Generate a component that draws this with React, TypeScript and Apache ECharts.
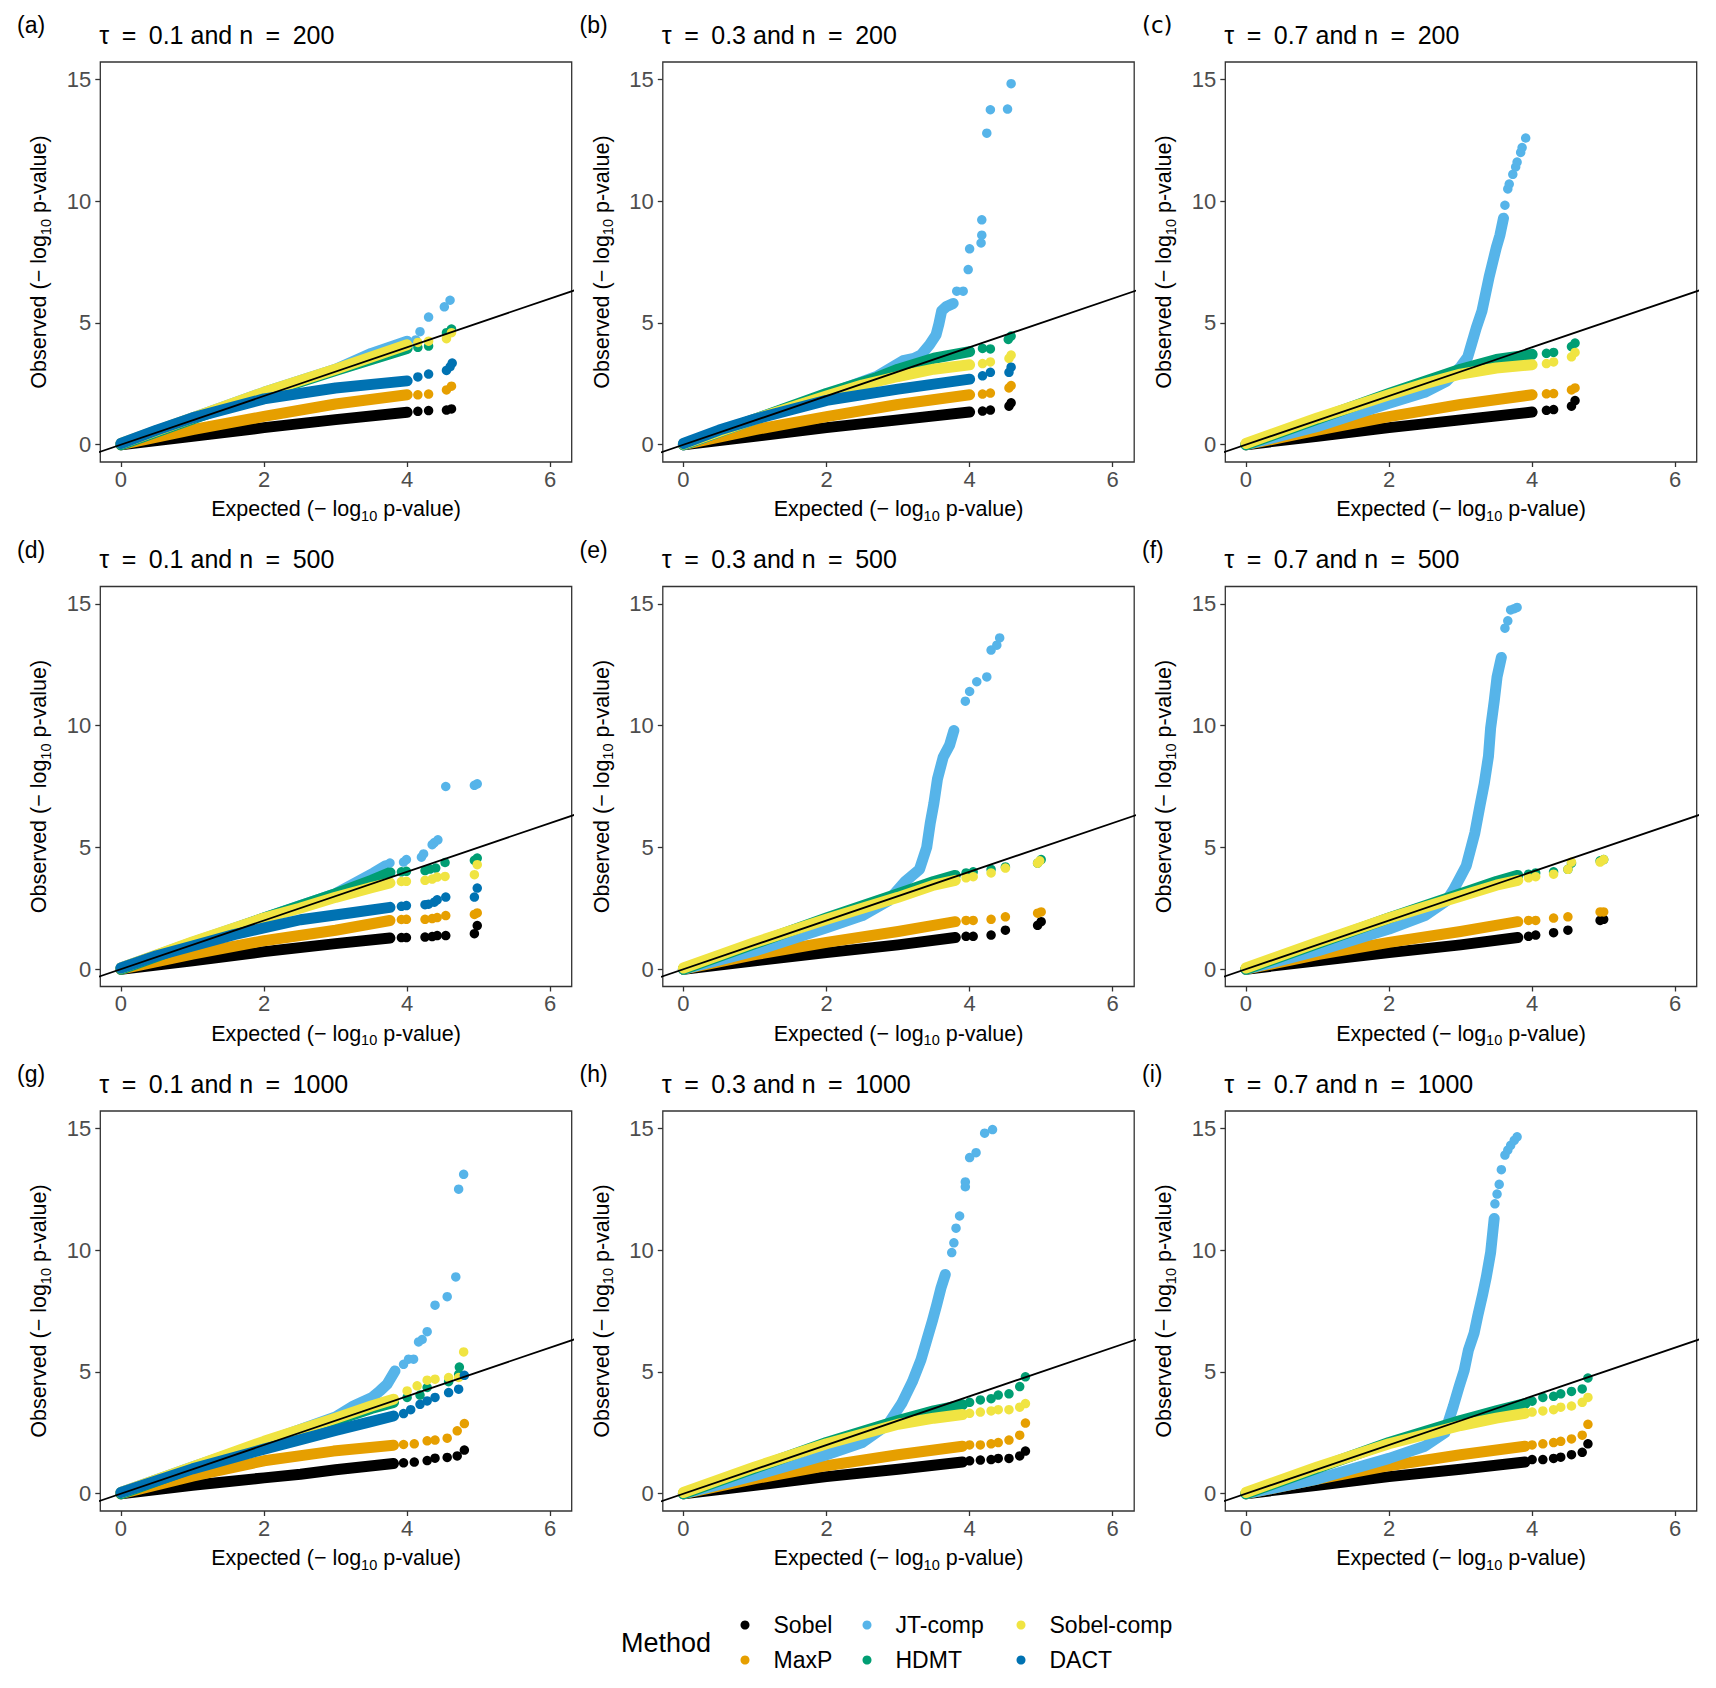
import React, { useEffect, useRef } from "react";
import * as echarts from "echarts";

type Pt = [number, number];

const methods = ["Sobel", "MaxP", "JT-comp", "HDMT", "Sobel-comp", "DACT"];
const methodColors = ["#000000", "#E69F00", "#56B4E9", "#009E73", "#F0E442", "#0072B2"];
const panelTags = ["(a)", "(b)", "(c)", "(d)", "(e)", "(f)", "(g)", "(h)", "(i)"];
const tauValues = ["0.1", "0.3", "0.7"];
const nValues = ["200", "500", "1000"];
const xTickValues = [0, 2, 4, 6];
const yTickValues = [0, 5, 10, 15];
const ablinePts: Pt[] = [[-1, -1], [7, 7]];

// ---- Panel (a): tau = 0.1, n = 200 (order: Sobel, MaxP, JT-comp, HDMT, Sobel-comp, DACT)
const bandA: Pt[][] = [
  [[0, 0], [1, 0.35], [2, 0.7], [3, 1.03], [4, 1.33]],
  [[0, 0], [1, 0.62], [2, 1.16], [3, 1.67], [4, 2.05]],
  [[0, 0.02], [1, 1.1], [2, 2.15], [3, 3.1], [3.5, 3.75], [4, 4.25]],
  [[0, 0], [1, 1.05], [2, 2.1], [3, 3.05], [4, 3.95]],
  [[0, 0.05], [1, 1.1], [2, 2.15], [3, 3.1], [3.5, 3.6], [4, 4.1]],
  [[0, 0.05], [0.5, 0.6], [1, 1.1], [2, 1.88], [3, 2.33], [4, 2.62]],
];
const tailA: Pt[][] = [
  [[4.15, 1.37], [4.3, 1.4], [4.55, 1.42], [4.62, 1.47]],
  [[4.15, 2.05], [4.3, 2.08], [4.55, 2.25], [4.62, 2.4]],
  [[4.12, 4.3], [4.18, 4.64], [4.3, 5.24], [4.52, 5.66], [4.6, 5.93]],
  [[4.15, 4.0], [4.3, 4.05], [4.55, 4.6], [4.62, 4.75]],
  [[4.15, 4.2], [4.3, 4.25], [4.55, 4.35], [4.62, 4.6]],
  [[4.15, 2.78], [4.3, 2.9], [4.55, 3.05], [4.6, 3.2], [4.63, 3.35]],
];

// ---- Panel (b): tau = 0.3, n = 200
const bandB: Pt[][] = [
  [[0, 0], [1, 0.35], [2, 0.7], [3, 1.02], [4, 1.34]],
  [[0, 0], [1, 0.62], [2, 1.15], [3, 1.65], [4, 2.05]],
  [[0, 0], [1, 1.05], [2, 2.05], [2.7, 2.8], [3.07, 3.45], [3.22, 3.54], [3.32, 3.68], [3.44, 4.1], [3.53, 4.5], [3.57, 4.95], [3.61, 5.5], [3.67, 5.66], [3.77, 5.8]],
  [[0, 0], [1, 1.05], [2, 2.1], [2.7, 2.75], [3, 3.1], [3.5, 3.55], [4, 3.82]],
  [[0, 0.03], [1, 1.05], [2, 2.0], [2.5, 2.45], [3, 2.8], [3.5, 3.1], [4, 3.28]],
  [[0, 0.05], [0.5, 0.6], [1, 1.05], [2, 1.82], [3, 2.28], [4, 2.69]],
];
const tailB: Pt[][] = [
  [[4.18, 1.38], [4.29, 1.42], [4.55, 1.58], [4.58, 1.72]],
  [[4.18, 2.08], [4.29, 2.12], [4.55, 2.33], [4.58, 2.43]],
  [[3.82, 6.3], [3.91, 6.3], [3.98, 7.19], [4.0, 8.04], [4.16, 8.28], [4.17, 8.6], [4.17, 9.23], [4.24, 12.79], [4.29, 13.75], [4.53, 13.78], [4.58, 14.82]],
  [[4.18, 3.95], [4.29, 3.93], [4.54, 4.32], [4.58, 4.46]],
  [[4.18, 3.33], [4.29, 3.4], [4.55, 3.54], [4.58, 3.68]],
  [[4.18, 2.83], [4.29, 2.97], [4.55, 2.97], [4.58, 3.18]],
];

// ---- Panel (c): tau = 0.7, n = 200
const bandC: Pt[][] = [
  [[0, 0], [1, 0.35], [2, 0.7], [3, 1.02], [4, 1.34]],
  [[0, 0], [1, 0.6], [2, 1.15], [3, 1.65], [4, 2.05]],
  [[0, 0], [1, 0.75], [2, 1.7], [2.5, 2.15], [2.8, 2.6], [3.0, 3.2], [3.1, 3.6], [3.15, 4.1], [3.22, 4.8], [3.3, 5.5], [3.35, 6.2], [3.4, 6.9], [3.45, 7.5], [3.5, 8.1], [3.55, 8.6], [3.6, 9.3]],
  [[0, 0], [1, 1.05], [2, 2.1], [3, 3.1], [3.5, 3.5], [4, 3.71]],
  [[0, 0.05], [1, 1.1], [2, 2.05], [2.5, 2.5], [3, 2.9], [3.5, 3.15], [4, 3.28]],
  [],
];
const tailC: Pt[][] = [
  [[4.2, 1.41], [4.3, 1.44], [4.55, 1.58], [4.6, 1.81]],
  [[4.2, 2.09], [4.3, 2.1], [4.55, 2.25], [4.6, 2.33]],
  [[3.62, 9.83], [3.66, 10.5], [3.68, 10.7], [3.73, 11.1], [3.77, 11.4], [3.79, 11.6], [3.84, 12.0], [3.86, 12.2], [3.91, 12.59]],
  [[4.2, 3.75], [4.3, 3.79], [4.55, 4.03], [4.6, 4.17]],
  [[4.2, 3.33], [4.3, 3.4], [4.55, 3.61], [4.6, 3.79]],
  [],
];

// ---- Panel (d): tau = 0.1, n = 500
const bandD: Pt[][] = [
  [[0, 0], [1, 0.35], [2, 0.72], [3, 1.05], [3.76, 1.28]],
  [[0, 0], [1, 0.62], [2, 1.17], [3, 1.6], [3.76, 2.0]],
  [[0, 0.05], [1, 1.1], [2, 2.1], [3, 3.1], [3.53, 3.95], [3.7, 4.25]],
  [[0, 0], [1, 1.05], [2, 2.1], [3, 3.1], [3.5, 3.65], [3.76, 3.97]],
  [[0, 0.05], [1, 1.12], [2, 2.1], [2.5, 2.5], [3, 2.95], [3.5, 3.35], [3.76, 3.54]],
  [[0, 0.05], [0.5, 0.55], [1, 0.95], [1.58, 1.42], [2.51, 2.03], [3.2, 2.31], [3.76, 2.54]],
];
const tailD: Pt[][] = [
  [[3.92, 1.3], [3.99, 1.3], [4.25, 1.32], [4.35, 1.34], [4.42, 1.38], [4.54, 1.38], [4.94, 1.46], [4.98, 1.79]],
  [[3.92, 2.04], [3.99, 2.05], [4.25, 2.05], [4.35, 2.08], [4.42, 2.12], [4.54, 2.2], [4.94, 2.25], [4.98, 2.31]],
  [[3.76, 4.36], [3.95, 4.4], [3.99, 4.5], [4.2, 4.6], [4.23, 4.73], [4.35, 5.11], [4.38, 5.2], [4.43, 5.31], [4.54, 7.5], [4.94, 7.55], [4.98, 7.61]],
  [[3.92, 4.0], [3.99, 4.02], [4.25, 4.05], [4.32, 4.11], [4.4, 4.15], [4.53, 4.38], [4.94, 4.47], [4.98, 4.56]],
  [[3.92, 3.6], [3.99, 3.61], [4.25, 3.65], [4.35, 3.7], [4.42, 3.78], [4.53, 3.81], [4.94, 3.88], [4.98, 4.29]],
  [[3.92, 2.58], [3.99, 2.61], [4.25, 2.65], [4.3, 2.67], [4.38, 2.75], [4.42, 2.85], [4.54, 2.96], [4.94, 2.96], [4.98, 3.33]],
];

// ---- Panel (e): tau = 0.3, n = 500
const bandE: Pt[][] = [
  [[0, 0], [1, 0.35], [2, 0.68], [3, 1.0], [3.8, 1.3]],
  [[0, 0], [1, 0.6], [2, 1.1], [3, 1.55], [3.8, 1.95]],
  [[0, 0], [1, 0.75], [2, 1.7], [2.5, 2.2], [2.86, 2.8], [3.1, 3.6], [3.3, 4.1], [3.4, 5.0], [3.45, 6.0], [3.5, 6.8], [3.55, 7.8], [3.63, 8.7], [3.72, 9.2], [3.78, 9.8]],
  [[0, 0], [1, 1.05], [2, 2.1], [3, 3.1], [3.5, 3.6], [3.8, 3.85]],
  [[0, 0.05], [1, 1.1], [2, 2.05], [3, 2.95], [3.5, 3.45], [3.8, 3.65]],
  [],
];
const tailE: Pt[][] = [
  [[3.95, 1.35], [4.05, 1.35], [4.3, 1.4], [4.5, 1.6], [4.95, 1.8], [5.0, 1.95]],
  [[3.95, 2.0], [4.05, 2.0], [4.3, 2.05], [4.5, 2.15], [4.95, 2.3], [5.0, 2.35]],
  [[3.94, 11.0], [4.0, 11.4], [4.1, 11.8], [4.24, 12.0], [4.3, 13.1], [4.38, 13.3], [4.42, 13.6]],
  [[3.95, 3.95], [4.05, 4.0], [4.3, 4.1], [4.5, 4.2], [4.95, 4.35], [5.0, 4.5]],
  [[3.95, 3.75], [4.05, 3.8], [4.3, 3.95], [4.5, 4.15], [4.95, 4.35], [4.98, 4.45]],
  [],
];

// ---- Panel (f): tau = 0.7, n = 500
const bandF: Pt[][] = [
  [[0, 0], [1, 0.35], [2, 0.68], [3, 1.0], [3.8, 1.3]],
  [[0, 0], [1, 0.6], [2, 1.1], [3, 1.55], [3.8, 1.95]],
  [[0, 0], [1, 0.75], [2, 1.65], [2.5, 2.2], [2.8, 2.8], [2.9, 3.25], [3.0, 3.8], [3.08, 4.25], [3.2, 5.6], [3.27, 6.7], [3.33, 7.6], [3.39, 8.75], [3.42, 9.9], [3.47, 11.0], [3.51, 12.0], [3.57, 12.8]],
  [[0, 0], [1, 1.05], [2, 2.1], [3, 3.1], [3.5, 3.6], [3.8, 3.85]],
  [[0, 0.05], [1, 1.1], [2, 2.1], [3, 3.0], [3.5, 3.45], [3.8, 3.65]],
  [],
];
const tailF: Pt[][] = [
  [[3.95, 1.35], [4.05, 1.4], [4.3, 1.5], [4.5, 1.6], [4.95, 2.0], [5.0, 2.05]],
  [[3.95, 2.0], [4.05, 2.0], [4.3, 2.1], [4.5, 2.15], [4.95, 2.35], [5.0, 2.35]],
  [[3.62, 14.0], [3.66, 14.3], [3.7, 14.75], [3.75, 14.8], [3.79, 14.85]],
  [[3.95, 3.9], [4.05, 3.95], [4.3, 4.0], [4.5, 4.1], [4.55, 4.35], [4.95, 4.45], [5.0, 4.5]],
  [[3.95, 3.75], [4.05, 3.8], [4.3, 3.9], [4.5, 4.1], [4.55, 4.4], [4.95, 4.4], [5.0, 4.5]],
  [],
];

// ---- Panel (g): tau = 0.1, n = 1000
const bandG: Pt[][] = [
  [[0, 0], [1, 0.35], [2, 0.65], [2.51, 0.8], [3, 0.98], [3.81, 1.24]],
  [[0, 0], [1, 0.72], [2, 1.35], [2.97, 1.75], [3.81, 1.99]],
  [[0, 0.05], [1, 1.1], [2, 2.1], [3, 3.15], [3.25, 3.6], [3.51, 3.95], [3.62, 4.22], [3.72, 4.49], [3.83, 5.04]],
  [[0, 0], [1, 1.05], [2, 2.1], [3, 3.0], [3.5, 3.5], [3.81, 3.75]],
  [[0, 0.05], [1, 1.1], [2, 2.15], [3, 3.1], [3.5, 3.6], [3.81, 3.88]],
  [[0, 0.05], [1, 1.02], [2, 1.83], [2.51, 2.22], [3, 2.6], [3.44, 2.92], [3.81, 3.19]],
];
const tailG: Pt[][] = [
  [[3.95, 1.27], [4.1, 1.3], [4.28, 1.36], [4.39, 1.46], [4.56, 1.49], [4.7, 1.55], [4.8, 1.79]],
  [[3.95, 2.02], [4.1, 2.05], [4.28, 2.17], [4.39, 2.2], [4.56, 2.28], [4.7, 2.58], [4.8, 2.88]],
  [[3.95, 5.31], [4.02, 5.52], [4.09, 5.52], [4.16, 6.23], [4.21, 6.33], [4.28, 6.65], [4.39, 7.74], [4.56, 8.09], [4.68, 8.9], [4.72, 12.5], [4.79, 13.11]],
  [[4.0, 3.95], [4.18, 4.05], [4.28, 4.36], [4.58, 4.6], [4.72, 4.9], [4.73, 5.2]],
  [[4.0, 4.22], [4.14, 4.43], [4.28, 4.66], [4.39, 4.7], [4.58, 4.77], [4.72, 4.77], [4.79, 5.82]],
  [[3.95, 3.29], [4.05, 3.45], [4.18, 3.67], [4.28, 3.81], [4.39, 3.95], [4.58, 4.15], [4.72, 4.29], [4.8, 4.86]],
];

// ---- Panel (h): tau = 0.3, n = 1000
const bandH: Pt[][] = [
  [[0, 0], [1, 0.35], [2, 0.7], [3, 1.0], [3.9, 1.3]],
  [[0, 0], [1, 0.62], [2, 1.15], [3, 1.6], [3.9, 1.95]],
  [[0, 0], [1, 0.75], [2, 1.6], [2.5, 2.1], [2.86, 2.85], [3.05, 3.7], [3.2, 4.6], [3.32, 5.5], [3.4, 6.3], [3.48, 7.1], [3.54, 7.75], [3.6, 8.45], [3.66, 9.0]],
  [[0, 0], [1, 1.05], [2, 2.1], [3, 3.0], [3.5, 3.4], [3.9, 3.65]],
  [[0, 0.05], [1, 1.1], [2, 2.05], [3, 2.85], [3.5, 3.1], [3.9, 3.25]],
  [],
];
const tailH: Pt[][] = [
  [[4.0, 1.35], [4.15, 1.38], [4.3, 1.4], [4.4, 1.45], [4.55, 1.45], [4.7, 1.55], [4.78, 1.75]],
  [[4.0, 2.0], [4.15, 2.0], [4.3, 2.05], [4.4, 2.1], [4.55, 2.2], [4.7, 2.4], [4.78, 2.9]],
  [[3.75, 9.9], [3.78, 10.3], [3.81, 10.9], [3.86, 11.4], [3.94, 12.6], [3.94, 12.8], [4.0, 13.8], [4.09, 14.0], [4.21, 14.8], [4.32, 14.95]],
  [[4.0, 3.75], [4.15, 3.85], [4.3, 3.9], [4.4, 4.05], [4.55, 4.1], [4.7, 4.4], [4.78, 4.8]],
  [[4.0, 3.3], [4.15, 3.35], [4.3, 3.4], [4.4, 3.45], [4.55, 3.45], [4.7, 3.55], [4.78, 3.7]],
  [],
];

// ---- Panel (i): tau = 0.7, n = 1000
const bandI: Pt[][] = [
  [[0, 0], [1, 0.35], [2, 0.7], [3, 1.0], [3.9, 1.3]],
  [[0, 0], [1, 0.6], [2, 1.15], [3, 1.6], [3.9, 1.95]],
  [[0, 0], [1, 0.6], [2, 1.45], [2.5, 1.95], [2.78, 2.5], [2.9, 3.6], [2.98, 4.4], [3.05, 5.05], [3.11, 5.9], [3.19, 6.6], [3.24, 7.3], [3.31, 8.2], [3.36, 8.9], [3.42, 9.9], [3.47, 11.3]],
  [[0, 0], [1, 1.05], [2, 2.1], [3, 3.0], [3.5, 3.4], [3.9, 3.7]],
  [[0, 0.05], [1, 1.1], [2, 2.05], [3, 2.8], [3.5, 3.1], [3.9, 3.3]],
  [],
];
const tailI: Pt[][] = [
  [[4.0, 1.4], [4.15, 1.4], [4.3, 1.45], [4.4, 1.5], [4.55, 1.6], [4.7, 1.7], [4.78, 2.05]],
  [[4.0, 2.0], [4.15, 2.05], [4.3, 2.1], [4.4, 2.15], [4.55, 2.25], [4.7, 2.4], [4.78, 2.85]],
  [[3.48, 11.9], [3.51, 12.3], [3.54, 12.7], [3.57, 13.3], [3.62, 13.9], [3.66, 14.1], [3.7, 14.3], [3.75, 14.5], [3.79, 14.65]],
  [[4.0, 3.8], [4.15, 3.95], [4.3, 4.0], [4.4, 4.1], [4.55, 4.2], [4.7, 4.3], [4.78, 4.75]],
  [[4.0, 3.35], [4.15, 3.4], [4.3, 3.45], [4.4, 3.55], [4.55, 3.6], [4.7, 3.75], [4.78, 3.95]],
  [],
];

const panelBands = [bandA, bandB, bandC, bandD, bandE, bandF, bandG, bandH, bandI];
const panelTails = [tailA, tailB, tailC, tailD, tailE, tailF, tailG, tailH, tailI];

const FONT = "'Liberation Sans', Arial, Helvetica, sans-serif";
const SP = "\u2002";

function buildOption() {
  const grids: any[] = [];
  const xAxes: any[] = [];
  const yAxes: any[] = [];
  const series: any[] = [];
  const graphics: any[] = [];

  const subRich = {
    sub: { fontSize: 14.5, fontFamily: FONT, color: "#000", padding: [13, 0, 0, 0] },
  };

  for (let p = 0; p < 9; p++) {
    const r = Math.floor(p / 3);
    const c = p % 3;
    const left = 100.3 + 562.5 * c;
    const top = 62 + 524.5 * r;
    grids.push({
      left,
      top,
      width: 471.4,
      height: 400,
      show: true,
      borderColor: "#333333",
      borderWidth: 1.3,
      backgroundColor: "transparent",
      containLabel: false,
    });
    xAxes.push({
      gridIndex: p,
      type: "value",
      min: -0.288,
      max: 6.3,
      axisLine: { show: false, onZero: false },
      axisTick: {
        show: true,
        length: 5,
        customValues: xTickValues,
        lineStyle: { color: "#333333", width: 1.3 },
      },
      axisLabel: {
        customValues: xTickValues,
        fontSize: 22,
        fontFamily: FONT,
        color: "#4D4D4D",
        margin: 6,
      },
      splitLine: { show: false },
      name: "Expected (\u2212 log{sub|10} p-value)",
      nameLocation: "middle",
      nameGap: 33,
      nameTextStyle: { fontSize: 21.5, fontFamily: FONT, color: "#000", rich: subRich },
    });
    yAxes.push({
      gridIndex: p,
      type: "value",
      min: -0.71,
      max: 15.71,
      axisLine: { show: false, onZero: false },
      axisTick: {
        show: true,
        length: 5,
        customValues: yTickValues,
        lineStyle: { color: "#333333", width: 1.3 },
      },
      axisLabel: {
        customValues: yTickValues,
        fontSize: 22,
        fontFamily: FONT,
        color: "#4D4D4D",
        margin: 9,
      },
      splitLine: { show: false },
      name: "Observed (\u2212 log{sub|10} p-value)",
      nameLocation: "middle",
      nameGap: 47,
      nameRotate: 90,
      nameTextStyle: { fontSize: 21.5, fontFamily: FONT, color: "#000", rich: subRich },
    });

    const bands = panelBands[p];
    const tails = panelTails[p];
    for (let m = 0; m < methods.length; m++) {
      const color = methodColors[m];
      if (bands[m] && bands[m].length) {
        series.push({
          type: "line",
          name: methods[m],
          xAxisIndex: p,
          yAxisIndex: p,
          data: bands[m],
          symbol: "none",
          showSymbol: false,
          silent: true,
          clip: true,
          itemStyle: { color },
          lineStyle: { color, width: 11, cap: "round", join: "round" },
          z: 2,
        });
      }
      if (tails[m] && tails[m].length) {
        series.push({
          type: "scatter",
          name: methods[m],
          xAxisIndex: p,
          yAxisIndex: p,
          data: tails[m],
          symbol: "circle",
          symbolSize: 9.5,
          silent: true,
          itemStyle: { color, opacity: 1 },
          z: 2,
        });
      }
    }
    series.push({
      type: "line",
      name: "abline",
      xAxisIndex: p,
      yAxisIndex: p,
      data: ablinePts,
      symbol: "none",
      showSymbol: false,
      silent: true,
      clip: true,
      lineStyle: { color: "#000", width: 1.8 },
      itemStyle: { color: "#000" },
      z: 3,
    });

    graphics.push({
      type: "text",
      x: 17 + 562.5 * c,
      y: 25 + 524.5 * r,
      style: {
        text: panelTags[p],
        fontSize: 23,
        fontFamily: p === 2 ? "'DejaVu Sans', sans-serif" : FONT,
        fill: "#000",
        align: "left",
        verticalAlign: "middle",
        textAlign: "left",
        textVerticalAlign: "middle",
      },
    });
    graphics.push({
      type: "text",
      x: left - 1,
      y: 34.5 + 524.5 * r,
      style: {
        text: `\u03C4${SP}=${SP}${tauValues[c]} and n${SP}=${SP}${nValues[r]}`,
        fontSize: 25,
        fontFamily: FONT,
        fill: "#000",
        align: "left",
        verticalAlign: "middle",
        textAlign: "left",
        textVerticalAlign: "middle",
      },
    });
  }

  graphics.push({
    type: "text",
    x: 621,
    y: 1643,
    style: {
      text: "Method",
      fontSize: 27,
      fontFamily: FONT,
      fill: "#000",
      align: "left",
      verticalAlign: "middle",
      textAlign: "left",
      textVerticalAlign: "middle",
    },
  });

  const legendCols = [
    { left: 740.5, items: [0, 1] },
    { left: 862.5, items: [2, 3] },
    { left: 1016.5, items: [4, 5] },
  ];
  const legends = legendCols.map((col) => ({
    show: true,
    orient: "vertical",
    left: col.left,
    top: 1612,
    padding: 0,
    itemWidth: 9,
    itemHeight: 9,
    itemGap: 9,
    selectedMode: false,
    icon: "circle",
    data: col.items.map((i) => ({
      name: methods[i],
      icon: "circle",
      itemStyle: { color: methodColors[i], borderWidth: 0 },
    })),
    textStyle: {
      fontSize: 23,
      fontFamily: FONT,
      color: "#000",
      lineHeight: 26,
      padding: [0, 0, 0, 19],
    },
  }));

  return {
    animation: false,
    backgroundColor: "#ffffff",
    textStyle: { fontFamily: FONT },
    grid: grids,
    xAxis: xAxes,
    yAxis: yAxes,
    legend: legends,
    series,
    graphic: graphics,
  };
}

export default function App() {
  const ref = useRef<HTMLDivElement>(null);
  useEffect(() => {
    if (!ref.current) return;
    const chart = echarts.init(ref.current, null, { renderer: "svg" });
    chart.setOption(buildOption() as any);
    return () => {
      chart.dispose();
    };
  }, []);
  return (
    <div
      ref={ref}
      style={{ position: "fixed", left: 0, top: 0, width: 1716, height: 1688, background: "#fff" }}
    />
  );
}
